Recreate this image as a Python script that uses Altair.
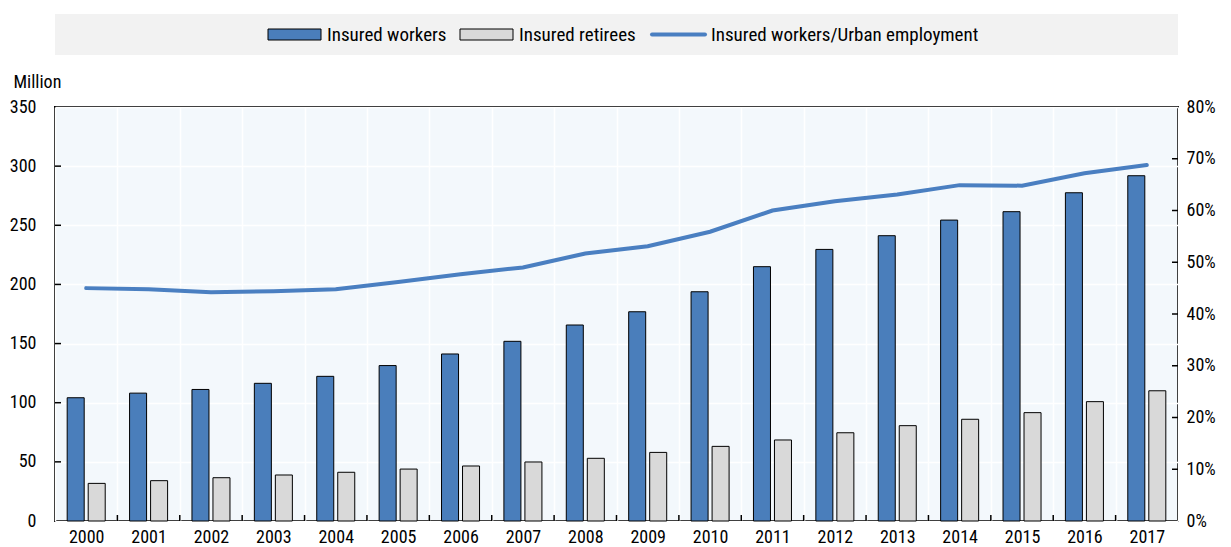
import altair as alt
import pandas as pd

years = [str(y) for y in range(2000, 2018)]
insured_workers = [104.2, 108.1, 111.2, 116.4, 122.3, 131.4, 141.2, 151.9, 165.7, 176.9,
                   193.8, 215.0, 229.6, 241.2, 254.4, 261.5, 277.5, 291.9]
insured_retirees = [31.8, 34.1, 36.6, 38.9, 41.2, 43.9, 46.5, 49.9, 53.0, 58.0,
                    63.1, 68.5, 74.6, 80.6, 86.0, 91.6, 100.9, 110.1]
ratio = [0.450, 0.448, 0.442, 0.444, 0.448, 0.462, 0.477, 0.490, 0.517, 0.531,
         0.559, 0.600, 0.618, 0.631, 0.649, 0.648, 0.672, 0.688]

series = ["Insured workers", "Insured retirees"]
line_label = "Insured workers/Urban employment"
left_ticks = [0, 50, 100, 150, 200, 250, 300, 350]
right_ticks = [0, 0.1, 0.2, 0.3, 0.4, 0.5, 0.6, 0.7, 0.8]

FONT = "Roboto Condensed, Arial Narrow, Liberation Sans, sans-serif"
BLUE = "#4a7ebb"
GREY = "#d9d9d9"
LINE = "#4a7fc1"
W, H = 1123, 414

bars_df = pd.DataFrame(
    [{"year": y, "series": series[0], "value": v} for y, v in zip(years, insured_workers)]
    + [{"year": y, "series": series[1], "value": v} for y, v in zip(years, insured_retirees)]
)
line_df = pd.DataFrame({"year": years, "ratio": ratio})

xscale = alt.Scale(domain=years, paddingInner=0, paddingOuter=0)

bars = alt.Chart(bars_df).mark_bar(stroke="black", strokeWidth=1).encode(
    x=alt.X("year:O", scale=xscale, title=None,
            axis=alt.Axis(tickBand="extent", grid=True, gridColor="white", gridWidth=1.5,
                          ticks=False, domain=False, labelAngle=0, labelPadding=7,
                          labelFontSize=18, labelColor="black")),
    xOffset=alt.XOffset("series:N", sort=series,
                        scale=alt.Scale(domain=series, paddingInner=0.19, paddingOuter=0.58)),
    y=alt.Y("value:Q", scale=alt.Scale(domain=[0, 350], nice=False, zero=True),
            axis=alt.Axis(values=left_ticks, title="Million", titleAngle=0, titleAlign="left",
                          titleBaseline="middle", titleX=-42, titleY=-25, titleFontSize=18,
                          titleFontWeight="normal", titleColor="black",
                          grid=True, gridColor="white", gridWidth=1.5, ticks=False, domain=False,
                          labelPadding=19, labelFontSize=18, labelColor="black")),
    fill=alt.Fill("series:N", scale=alt.Scale(domain=series, range=[BLUE, GREY]), legend=None),
)

line = alt.Chart(line_df).mark_line(color=LINE, strokeWidth=4, strokeCap="round").encode(
    x=alt.X("year:O", scale=xscale, title=None),
    y=alt.Y("ratio:Q", scale=alt.Scale(domain=[0, 0.8], nice=False),
            axis=alt.Axis(orient="right", values=right_ticks, format=".0%", title=None,
                          grid=False, ticks=False, domain=False, labelPadding=8,
                          labelFontSize=18, labelColor="black")),
)

lt = alt.Chart(pd.DataFrame({"v": left_ticks[1:-1]})).mark_rule(color="black", strokeWidth=1.5).encode(
    y=alt.Y("v:Q", scale=alt.Scale(domain=[0, 350], nice=False), axis=None),
    x=alt.value(0), x2=alt.value(6),
)
rt = alt.Chart(pd.DataFrame({"v": right_ticks[1:-1]})).mark_rule(color="black", strokeWidth=1.5).encode(
    y=alt.Y("v:Q", scale=alt.Scale(domain=[0, 0.8], nice=False), axis=None),
    x=alt.value(W - 6), x2=alt.value(W),
)
bt = alt.Chart(pd.DataFrame({"year": years[1:]})).mark_rule(color="black", strokeWidth=1.5).encode(
    x=alt.X("year:O", scale=xscale, bandPosition=0, title=None),
    y=alt.value(H - 6), y2=alt.value(H),
)

main = alt.layer(bars, lt, bt, line, rt).resolve_scale(y="independent").properties(width=W, height=H)

# legend band
leg_labels = [series[0], series[1], line_label]
leg_df = pd.DataFrame({"label": leg_labels, "kind": ["bar", "bar", "line"]})
lx = alt.X("label:N", sort=leg_labels, axis=None,
           scale=alt.Scale(type="point", domain=leg_labels, range=[117, 693]))
lx2 = alt.X2("label:N")

sw = alt.Chart(leg_df).transform_filter(alt.datum.kind == "bar").mark_rect(
    x2Offset=53, stroke="black", strokeWidth=1).encode(
    x=lx, x2=lx2, y=alt.value(15), y2=alt.value(26),
    fill=alt.Fill("label:N", scale=alt.Scale(domain=series, range=[BLUE, GREY]), legend=None),
)
sl = alt.Chart(leg_df).transform_filter(alt.datum.kind == "line").mark_rule(
    x2Offset=53, color=LINE, strokeWidth=4, strokeCap="round").encode(
    x=lx, x2=lx2, y=alt.value(20.5),
)
st = alt.Chart(leg_df).mark_text(align="left", baseline="middle", dx=59, fontSize=19,
                                  font=FONT, color="black").encode(
    x=lx, y=alt.value(20.5), text="label:N",
)
legend = alt.layer(sw, sl, st).properties(
    width=W, height=41, view=alt.ViewBackground(fill="#f2f2f2", stroke="transparent", strokeWidth=0)
)

chart = alt.vconcat(legend, main, spacing=52, bounds="flush").properties(
    padding={"left": 0, "top": 6, "right": 0, "bottom": 0}
).configure(font=FONT).configure_view(
    fill="#f3f8fc", stroke="black", strokeWidth=2
).configure_axis(labelFont=FONT, titleFont=FONT)

chart.save("out.html", embed_options={"renderer": "svg", "actions": False})
